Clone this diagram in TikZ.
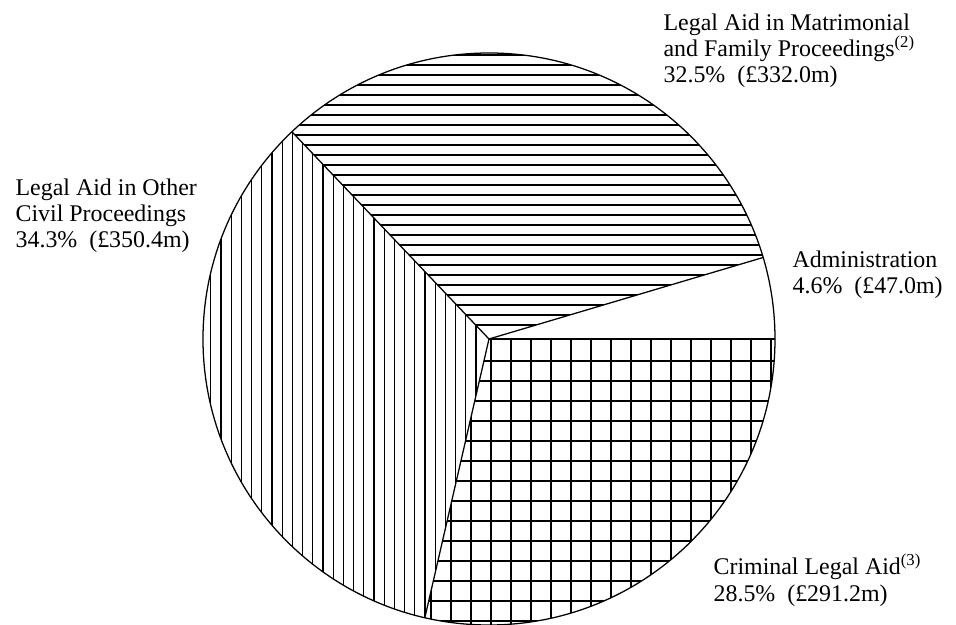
\documentclass[tikz,border=0pt]{standalone}
\usepackage{fontspec}
\setmainfont{Liberation Serif}
\usepackage{tikz}
\usetikzlibrary{calc}

\begin{document}
\begin{tikzpicture}[x=0.025cm, y=0.025cm, line width=0.9pt,
	label/.style={align=left, inner sep=0pt, anchor=base west, font=\fontsize{17pt}{18.7pt}\selectfont},
	hatch/.style={line width=0.9pt},
	mesh/.style={line width=2pt}]
	\useasboundingbox (-489,-286) rectangle (467,339);
	\coordinate (c) at (0,0);

	\begin{scope}
		\clip (c) -- (16.56:286) arc (16.56:133.56:286) -- cycle;
		\foreach \y in {14,24,...,290}
			\draw[hatch] (-300,\y) -- (300,\y);
	\end{scope}
	\begin{scope}
		\clip (c) -- (133.56:286) arc (133.56:257.04:286) -- cycle;
		\foreach \x in {-13,-23.2,...,-295}
			\draw[hatch] (\x,-300) -- (\x,300);
	\end{scope}
	\begin{scope}
		\clip (c) -- (257.04:286) arc (257.04:360:286) -- cycle;
		\foreach \x in {-78,-58,...,300}
			\draw[mesh] (\x,-300) -- (\x,0);
		\foreach \y in {-22,-42,...,-300}
			\draw[mesh] (-100,\y) -- (300,\y);
	\end{scope}

	\draw (c) circle (286);
	\draw (c) -- (0:286);
	\draw (c) -- (16.56:286);
	\draw (c) -- (133.56:286);
	\draw (c) -- (257.04:286);

	\node[label] (matri) at (174,256) {Legal Aid in Matrimonial \\ and Family Proceedings\textsuperscript{(2)} \\ 32.5\%\ \ (£332.0m)};
	\node[label] (civil) at (-474,91) {Legal Aid in Other \\ Civil Proceedings \\ 34.3\%\ \ (£350.4m)};
	\node[label] (admin) at (303,45) {Administration \\ 4.6\%\ \ (£47.0m)};
	\node[label] (crim) at (224,-262) {Criminal Legal Aid\textsuperscript{(3)} \\ 28.5\%\ \ (£291.2m)};
\end{tikzpicture}
\end{document}
